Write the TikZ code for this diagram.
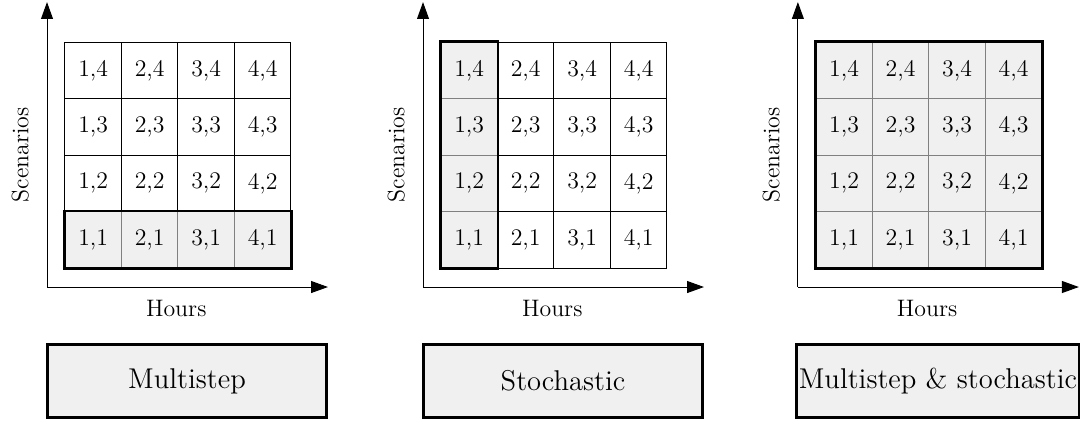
\documentclass[tikz,border=0pt]{standalone}
\usetikzlibrary{arrows.meta}
\begin{document}
\begin{tikzpicture}[
  cell/.style={draw=black, line width=0.5pt, minimum size=1cm, inner sep=0pt, font=\large},
  hcell/.style={cell, fill=gray!12, draw=gray},
  hl/.style={draw=black, line width=1.4pt},
  axis/.style={-{Triangle[length=8.5pt,width=6pt]}, line width=0.5pt},
  axlbl/.style={font=\large, inner sep=1pt},
  lbl/.style={draw=black, line width=1.4pt, fill=gray!12, minimum width=4.95cm, minimum height=1.30cm, inner sep=1pt, font=\Large}
]
\useasboundingbox (0,0) rectangle (19.133,7.487);

% ---------- Panel 1: Multistep ----------
\begin{scope}
  \coordinate (o1) at (0.832,2.407);
  \coordinate (x1) at (5.805,2.407);
  \coordinate (y1) at (0.832,7.45);
  \draw[axis] (o1) -- (x1);
  \draw[axis] (o1) -- (y1);
  \foreach \i in {1,...,4} \foreach \j in {2,3,4}
    \node[cell] (pa\i\j) at ({0.65+\i},{2.243+\j}) {\i,\j};
  \foreach \i in {1,...,4}
    \node[hcell] (pa\i1) at ({0.65+\i},{2.243+1}) {\i,1};
  \draw[hl] (pa11.south west) rectangle (pa41.north east);
  \node[axlbl, rotate=90] (sa) at (0.36,4.75) {Scenarios};
  \node[axlbl] (ha) at (3.12,2.035) {Hours};
  \node[lbl] (ba) at (3.31,0.743) {Multistep};
\end{scope}

% ---------- Panel 2: Stochastic ----------
\begin{scope}[xshift=6.655cm]
  \coordinate (o2) at (0.832,2.407);
  \coordinate (x2) at (5.805,2.407);
  \coordinate (y2) at (0.832,7.45);
  \draw[axis] (o2) -- (x2);
  \draw[axis] (o2) -- (y2);
  \foreach \i in {2,3,4} \foreach \j in {1,...,4}
    \node[cell] (pb\i\j) at ({0.65+\i},{2.243+\j}) {\i,\j};
  \foreach \j in {1,...,4}
    \node[hcell] (pb1\j) at ({0.65+1},{2.243+\j}) {1,\j};
  \draw[hl] (pb11.south west) rectangle (pb14.north east);
  \node[axlbl, rotate=90] (sb) at (0.36,4.75) {Scenarios};
  \node[axlbl] (hb) at (3.12,2.035) {Hours};
  \node[lbl] (bb) at (3.31,0.743) {Stochastic};
\end{scope}

% ---------- Panel 3: Multistep & stochastic ----------
\begin{scope}[xshift=13.29cm]
  \coordinate (o3) at (0.832,2.407);
  \coordinate (x3) at (5.805,2.407);
  \coordinate (y3) at (0.832,7.45);
  \draw[axis] (o3) -- (x3);
  \draw[axis] (o3) -- (y3);
  \foreach \i in {1,...,4} \foreach \j in {1,...,4}
    \node[hcell] (pc\i\j) at ({0.65+\i},{2.243+\j}) {\i,\j};
  \draw[hl] (pc11.south west) rectangle (pc44.north east);
  \node[axlbl, rotate=90] (sc) at (0.36,4.75) {Scenarios};
  \node[axlbl] (hc) at (3.12,2.035) {Hours};
  \node[lbl] (bc) at (3.31,0.743) {Multistep \& stochastic};
\end{scope}
\end{tikzpicture}
\end{document}
